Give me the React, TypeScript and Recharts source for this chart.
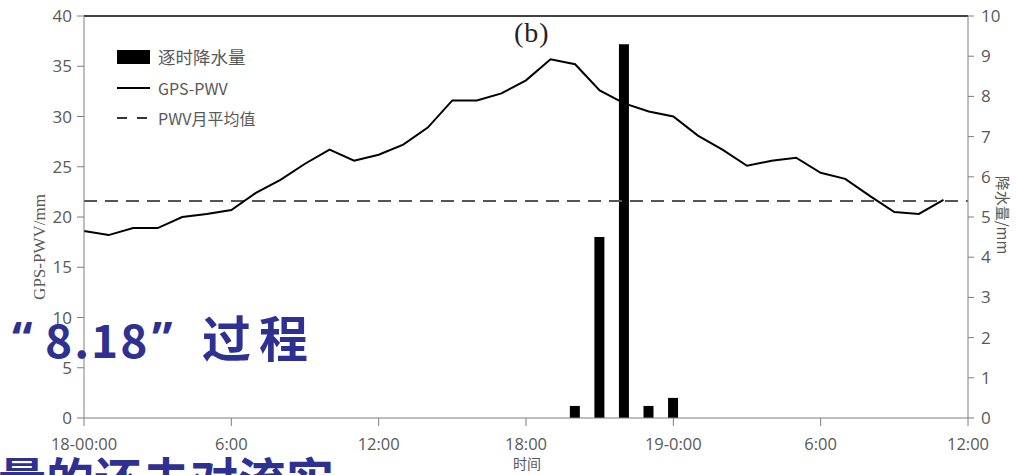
import React from 'react';
import {
  ComposedChart,
  Line,
  Bar,
  XAxis,
  YAxis,
  ReferenceLine,
} from 'recharts';

// Hour offsets from 18日 00:00
const hours = [
  0, 1, 2, 3, 4, 5, 6, 7, 8, 9, 10, 11, 12, 13, 14, 15, 16, 17, 18,
  19, 20, 21, 22, 23, 24, 25, 26, 27, 28, 29, 30, 31, 32, 33, 34, 35,
];

// GPS-PWV (mm), hourly
const pwv = [
  18.6, 18.2, 18.9, 18.9, 20.0, 20.3, 20.7, 22.4, 23.7, 25.3, 26.7, 25.6,
  26.2, 27.2, 28.9, 31.6, 31.6, 32.3, 33.6, 35.7, 35.2, 32.6, 31.3, 30.5,
  30.0, 28.1, 26.7, 25.1, 25.6, 25.9, 24.4, 23.8, 22.1, 20.5, 20.3, 21.7,
];

// Hourly precipitation (mm)
const rain = [
  0, 0, 0, 0, 0, 0, 0, 0, 0, 0, 0, 0,
  0, 0, 0, 0, 0, 0, 0, 0, 0.3, 4.5, 9.3, 0.3,
  0.5, 0, 0, 0, 0, 0, 0, 0, 0, 0, 0, 0,
];

// Monthly mean PWV (mm)
const pwvMonthlyMean = 21.6;

const xTicks = [0, 6, 12, 18, 24, 30, 36];
const xTickLabels = ['18-00:00', '6:00', '12:00', '18:00', '19-0:00', '6:00', '12:00'];
const leftTicks = [0, 5, 10, 15, 20, 25, 30, 35, 40];
const rightTicks = [0, 1, 2, 3, 4, 5, 6, 7, 8, 9, 10];

const legendLabels = ['逐时降水量', 'GPS-PWV', 'PWV月平均值'];

const data = hours.map((h, i) => ({ h, pwv: pwv[i], rain: rain[i] }));

const AXIS = '#7f7f7f';
const TEXT = '#595959';
const BLUE = '#2e3192';
const SANS = '"Open Sans", "Noto Sans CJK SC", sans-serif';
const CJK = '"Noto Sans CJK SC", "Open Sans", sans-serif';
const SERIF = '"Liberation Serif", "DejaVu Serif", serif';

const headingPiece = (left: number, top: number, size: number, family: string) => ({
  position: 'absolute' as const,
  left,
  top,
  fontFamily: family,
  fontWeight: 700,
  fontSize: size,
  color: BLUE,
  lineHeight: 1.2,
  whiteSpace: 'nowrap' as const,
});

export default function App() {
  return (
    <div
      style={{
        position: 'absolute',
        left: 0,
        top: 0,
        width: 1017,
        height: 475,
        overflow: 'hidden',
        background: '#fff',
      }}
    >
      <ComposedChart
        width={1017}
        height={475}
        data={data}
        margin={{ top: 16, right: 19, bottom: 27, left: 24 }}
      >
        <XAxis
          dataKey="h"
          type="number"
          domain={[0, 36]}
          ticks={xTicks}
          interval={0}
          tickFormatter={(v: number) => xTickLabels[xTicks.indexOf(v)]}
          height={30}
          stroke={AXIS}
          tickSize={8}
          tickMargin={12}
          tick={{ fill: TEXT, fontSize: 16.5, fontFamily: SANS }}
        />
        <YAxis
          yAxisId="left"
          domain={[0, 40]}
          ticks={leftTicks}
          interval={0}
          width={60}
          stroke={AXIS}
          tickSize={7}
          tickMargin={5}
          tick={{ fill: TEXT, fontSize: 17, fontFamily: SANS }}
        />
        <YAxis
          yAxisId="right"
          orientation="right"
          domain={[0, 10]}
          ticks={rightTicks}
          interval={0}
          width={30}
          stroke={AXIS}
          tickSize={6}
          tickMargin={7}
          tick={{ fill: TEXT, fontSize: 17, fontFamily: SANS, textAnchor: 'start' }}
        />
        <ReferenceLine yAxisId="left" y={40} stroke="#000" strokeWidth={1.5} />
        <ReferenceLine
          yAxisId="left"
          y={pwvMonthlyMean}
          stroke="#555"
          strokeWidth={2}
          strokeDasharray="13 8"
        />
        <Bar
          yAxisId="right"
          dataKey="rain"
          fill="#000"
          barSize={10}
          isAnimationActive={false}
        />
        <Line
          yAxisId="left"
          dataKey="pwv"
          stroke="#000"
          strokeWidth={2}
          dot={false}
          activeDot={false}
          isAnimationActive={false}
        />
      </ComposedChart>

      {/* panel tag */}
      <div
        style={{
          position: 'absolute',
          left: 514,
          top: 19,
          fontFamily: SERIF,
          fontSize: 28,
          letterSpacing: 1,
          color: '#222',
          lineHeight: 1,
        }}
      >
        (b)
      </div>

      {/* legend */}
      <svg
        width={40}
        height={80}
        style={{ position: 'absolute', left: 112, top: 44 }}
      >
        <rect x={5} y={6} width={33} height={14} fill="#000" />
        <line x1={5} y1={44} x2={38} y2={44} stroke="#000" strokeWidth={2} />
        <line
          x1={5}
          y1={74}
          x2={38}
          y2={74}
          stroke="#333"
          strokeWidth={2}
          strokeDasharray="10 10"
        />
      </svg>
      {legendLabels.map((t, i) => (
        <div
          key={t}
          style={{
            position: 'absolute',
            left: 158,
            top: 45 + i * 30.5,
            fontFamily: CJK,
            fontSize: i === 0 ? 17.5 : 16,
            color: TEXT,
            lineHeight: '24px',
            whiteSpace: 'nowrap',
          }}
        >
          {t}
        </div>
      ))}

      {/* axis titles */}
      <div
        style={{
          position: 'absolute',
          left: 40,
          top: 247,
          transform: 'translate(-50%, -50%) rotate(-90deg)',
          fontFamily: SERIF,
          fontSize: 17,
          color: TEXT,
          whiteSpace: 'nowrap',
        }}
      >
        GPS-PWV/mm
      </div>
      <div
        style={{
          position: 'absolute',
          left: 1003,
          top: 215,
          transform: 'translate(-50%, -50%) rotate(90deg)',
          fontFamily: CJK,
          fontSize: 15,
          color: TEXT,
          whiteSpace: 'nowrap',
        }}
      >
        降水量/mm
      </div>
      <div
        style={{
          position: 'absolute',
          left: 527,
          top: 463,
          transform: 'translate(-50%, -50%)',
          fontFamily: CJK,
          fontSize: 14,
          color: TEXT,
          whiteSpace: 'nowrap',
        }}
      >
        时间
      </div>

      {/* slide headings over the figure */}
      <div style={headingPiece(12, 310, 46, '"Open Sans", sans-serif')}>“</div>
      <div style={{ ...headingPiece(45, 311, 46, CJK), letterSpacing: 2 }}>8.18</div>
      <div style={headingPiece(152, 310, 46, '"Open Sans", sans-serif')}>”</div>
      <div style={{ ...headingPiece(202, 307, 49, CJK), letterSpacing: 8 }}>过程</div>
      <div style={headingPiece(-2, 449, 48, CJK)}>量的还未对流实</div>
    </div>
  );
}
